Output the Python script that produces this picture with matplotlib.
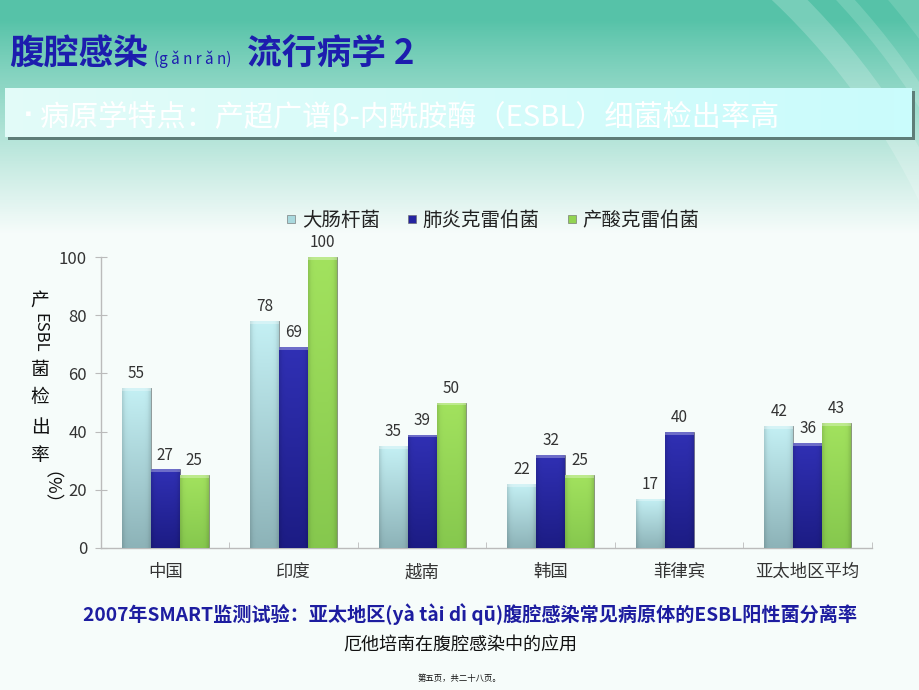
import numpy as np
import matplotlib
matplotlib.use("Agg")
import matplotlib.pyplot as plt
from matplotlib.patches import Rectangle, Circle
from matplotlib.lines import Line2D

plt.rcParams['font.family'] = ['Noto Sans CJK SC', 'DejaVu Sans']

categories = ["中国", "印度", "越南", "韩国", "菲律宾", "亚太地区平均"]
series_names = ["大肠杆菌", "肺炎克雷伯菌", "产酸克雷伯菌"]
ecoli = [55, 78, 35, 22, 17, 42]
kpneu = [27, 69, 39, 32, 40, 36]
koxy = [25, 100, 50, 25, np.nan, 43]
series = [ecoli, kpneu, koxy]
yticks = [0, 20, 40, 60, 80, 100]

# top / bottom colours of each series (bars get a soft vertical gradient)
bar_top = ["#c4f0f4", "#3030b4", "#a2e25e"]
bar_bot = ["#8db3b8", "#1c1c84", "#86c84e"]
legend_col = ["#a9d9de", "#2424a0", "#92d452"]

W, H = 920, 690
fig = plt.figure(figsize=(W / 100, H / 100), dpi=100)

# ---- background: teal gradient fading to white, with faint arcs
bg = fig.add_axes([0, 0, 1, 1], zorder=-5)
bg.set_xlim(0, W)
bg.set_ylim(H, 0)
bg.axis("off")
teal = np.array(matplotlib.colors.to_rgb("#4cbfa3"))
bg.imshow(np.tile(teal, (2, 2, 1)), extent=(0, W, H, 0), aspect="auto", zorder=0)
for r, lw, a in [(700, 18, 0.2), (740, 10, 0.16), (790, 26, 0.13), (850, 8, 0.18)]:
    bg.add_patch(Circle((300, 500), r, fill=False, lw=lw, ec="white", alpha=a, zorder=1))
yy = np.linspace(0, 1, 300)[:, None]
fade = np.clip((yy * H - 20) / 240.0, 0, 1) ** 0.9
over = np.ones((300, 2, 4))
over[..., 3] = np.clip(0.06 + fade, 0, 0.96)
bg.imshow(over, extent=(0, W, H, 0), aspect="auto", zorder=2)

# banner
bg.add_patch(Rectangle((8, 91), 907, 49, fc="#5e7d78", ec="none", zorder=3))
grad = np.linspace(0, 1, 50)[None, :, None]
c1 = np.array(matplotlib.colors.to_rgb("#e2fbf8"))
c2 = np.array(matplotlib.colors.to_rgb("#cafcfc"))
bg.imshow(c1 * (1 - grad) + c2 * grad, extent=(5, 912, 137, 88), aspect="auto", zorder=4)
bg.text(20, 116, "▪", fontsize=12, color="white", va="center", ha="left", zorder=5)
bg.text(40, 117, "病原学特点：产超广谱β-内酰胺酶（ESBL）细菌检出率高",
        fontsize=21, color="white", va="center", ha="left", zorder=5)

# title pieces
tc = "#1d1dae"
bg.text(9, 54, "腹腔感染", fontsize=25, fontweight="bold", color=tc, va="center", zorder=5)
bg.text(154, 59, "(g ǎ n r ǎ n)", fontsize=11, color=tc, va="center", zorder=5)
bg.text(247, 54, "流行病学 2", fontsize=25, fontweight="bold", color=tc, va="center", zorder=5)

# ---- chart
ax = fig.add_axes([101 / W, 142 / H, 771 / W, 291 / H])
ax.set_facecolor("none")
x = np.arange(len(categories))
bw = 0.225
for k, vals in enumerate(series):
    bars = ax.bar(x + (k - 1) * bw, vals, bw, color=bar_top[k], ec="#555555",
                  lw=0.4, zorder=2)
    for b, v in zip(bars, vals):
        if np.isnan(v):
            continue
        g = np.linspace(0, 1, 60)[:, None, None]
        hx = np.linspace(-1, 1, 20)[None, :, None]
        top = np.array(matplotlib.colors.to_rgb(bar_top[k]))
        bot = np.array(matplotlib.colors.to_rgb(bar_bot[k]))
        img = top * (1 - g) + bot * g
        img = img * (1 - 0.12 * hx ** 6)
        im = ax.imshow(np.clip(img, 0, 1), extent=(b.get_x(), b.get_x() + bw, 0, v),
                       aspect="auto", zorder=3)
        im.set_clip_path(b)
        ax.add_patch(Rectangle((b.get_x(), v - 1.0), bw, 1.0,
                               fc="white", alpha=0.3, ec="none", zorder=4))
        ax.text(b.get_x() + bw / 2, v + 2, f"{v:g}", ha="center", va="bottom",
                fontsize=11, color="#333333", zorder=5)

ax.set_xlim(-0.5, len(categories) - 0.5)
ax.set_ylim(0, 100)
ax.set_yticks(yticks)
ax.tick_params(axis="y", direction="inout", length=8, color="#bbbbbb",
               labelsize=12, labelcolor="#333333", pad=6)
ax.set_xticks(x)
ax.set_xticklabels(categories)
ax.tick_params(axis="x", length=0, labelsize=12.5, labelcolor="#333333", pad=11)
ax.set_xticks(np.arange(-0.5, len(categories)), minor=True)
ax.tick_params(axis="x", which="minor", direction="in", length=4, color="#bbbbbb")
for s in ["top", "right"]:
    ax.spines[s].set_visible(False)
for s in ["left", "bottom"]:
    ax.spines[s].set_color("#bbbbbb")
    ax.spines[s].set_linewidth(1.0)

# y-label: upright CJK, rotated Latin
lc = "#111111"
bg.text(40, 300, "产", fontsize=13.5, color=lc, ha="center", va="center", zorder=5)
bg.text(40, 333, "ESBL", fontsize=12, color=lc, ha="center", va="center",
        rotation=-90, zorder=5)
for i, ch in enumerate("菌检出率"):
    bg.text(40, 369 + i * 29, ch, fontsize=13.5, color=lc, ha="center", va="center", zorder=5)
bg.text(40, 497, "（%）", fontsize=13, color=lc, ha="center", va="center",
        rotation=-90, zorder=5)

# legend
handles = [Line2D([], [], ls="none", marker="s", ms=6, mfc=c, mec="#666666", mew=0.4)
           for c in legend_col]
fig.legend(handles, series_names, loc="center", bbox_to_anchor=(492 / W, 1 - 220 / H),
           ncol=3, frameon=False, fontsize=14, handletextpad=0.2, columnspacing=1.3,
           handlelength=0.7, labelcolor="#222222")

# captions
bg.text(470, 614, "2007年SMART监测试验：亚太地区(yà tài dì qū)腹腔感染常见病原体的ESBL阳性菌分离率",
        fontsize=13.8, fontweight="bold", color="#1d1da0", ha="center", va="center", zorder=5)
bg.text(460, 645, "厄他培南在腹腔感染中的应用", fontsize=13, color="#111111",
        ha="center", va="center", zorder=5)
bg.text(460, 678, "第五页，共二十八页。", fontsize=6, color="#111111",
        ha="center", va="center", zorder=5)

fig.savefig("out.png", dpi=100)
